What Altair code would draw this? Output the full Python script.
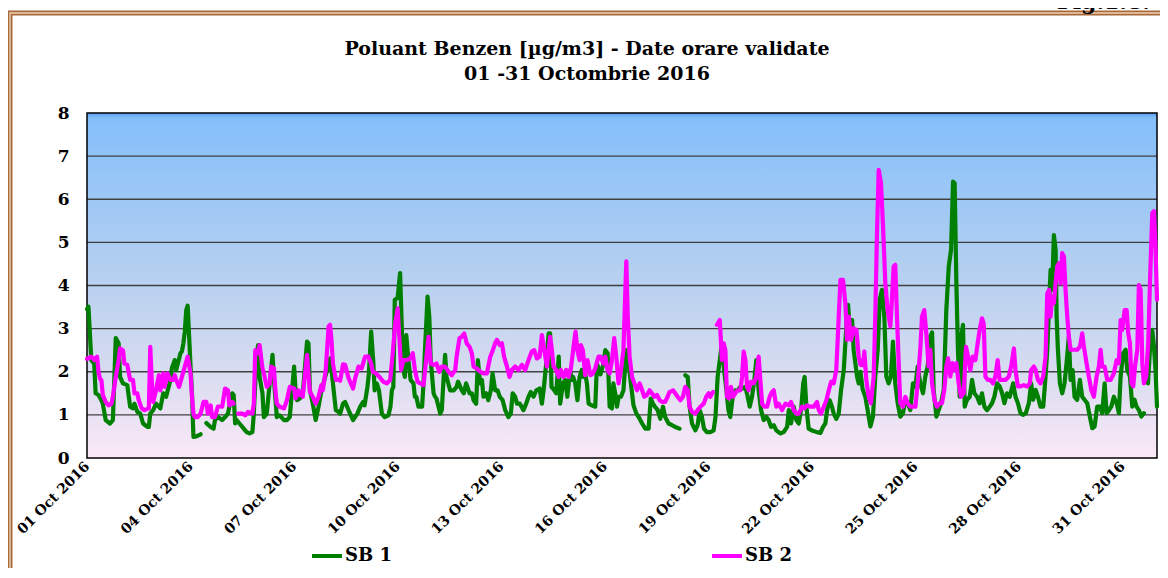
import altair as alt
import pandas as pd

FONT = "DejaVu Serif"
TITLE_LINES = ["Poluant Benzen [µg/m3] - Date orare validate", "01 -31 Octombrie 2016"]
FIG_LABEL = "Fig.1.8."
SERIES_NAMES = ["SB 1", "SB 2"]
SERIES_COLORS = ["#008000", "#ff00ff"]
TICK_DAYS = [1, 4, 7, 10, 13, 16, 19, 22, 25, 28, 31]
Y_TICKS = [0, 1, 2, 3, 4, 5, 6, 7, 8]
GRID_VALUES = [1, 2, 3, 4, 5, 6, 7]

# (hours since 01 Oct 2016 00:00, benzene ug/m3); None marks a break in the record
SB1 = [
(0,3.45),(1,3.51),(3,2.27),(5,2.19),(6,1.50),(8,1.46),(10,1.34),(11,1.26),(13,0.88),(16,0.80),(18,0.88),(20,2.78),(22,2.66),(23,1.88),(25,1.73),(28,1.69),(30,1.19),(32,1.15),(33,1.26),(35,1.07),(37,1.03),(39,0.80),(42,0.72),(43,0.72),(44,1.03),(46,1.11),(48,1.26),(51,1.15),(53,1.50),(55,1.42),(58,1.81),(59,2.08),(61,2.27),(62,2.04),(65,2.43),(66,2.47),(67,2.66),(68,2.93),(69,3.43),(70,3.53),(72,2.12),(73,1.50),(74,0.49),(76,0.50),(79,0.55),(81,None),
(83,0.81),(86,0.72),(88,0.68),(89,0.88),(91,0.95),(94,0.88),(96,0.95),(98,1.03),(99,1.19),(101,1.50),(102,1.46),(103,0.80),(104,0.88),(106,0.80),(108,0.72),(111,0.60),(113,0.57),(115,0.60),(116,1.03),(118,2.43),(119,2.62),(120,1.88),(122,1.50),(123,0.95),(125,1.03),(127,1.73),(129,2.39),(130,1.81),(132,0.95),(134,0.99),(137,0.88),(139,0.88),(141,0.95),(144,2.12),(145,1.57),(146,1.34),(148,1.38),(150,1.50),(153,2.70),(154,2.66),(155,1.57),(157,1.26),(159,0.88),(161,1.19),(163,1.57),(167,2.04),(169,2.31),(170,2.04),(173,1.11),(175,1.07),
(176,1.03),(178,1.26),(179.5,1.30),(182,1.10),(185,0.88),(188,1.03),(190,1.19),(192,1.30),(193,1.22),(195,1.65),(196,1.96),(197.6,2.93),(199,2.27),(200,1.57),(201.5,1.73),(203,1.57),(205,1.03),(207,0.95),(209.6,0.99),(211,1.19),(212,1.57),(213,1.65),(214,3.67),(216,3.71),(217.7,4.29),(219,2.89),(220,2.04),(221,1.88),(222,2.85),(223.5,2.27),(225,1.81),(227,1.73),(228,1.42),(229,1.42),(230.5,1.19),(233,1.19),(234,1.73),(235,2.50),(236.8,3.74),(238,3.28),(239,2.27),(241,1.50),(242,1.42),(243,1.38),(245.6,1.03),(246.7,1.11),(248,1.88),(249,2.39),(250,1.88),(252.5,1.57),(255,1.57),(257,1.65),(258,1.77),(260.6,1.57),(262,1.50),(263.6,1.73),(266,1.50),(267.6,1.50),(268.8,1.34),(270.6,1.26),(271.8,2.27),(273.4,1.73),(274.6,1.81),(275.7,1.42),(277.6,1.50),(279,1.34),(280.8,1.57),(282,1.96),(283.8,1.57),(285.5,1.57),(287,1.42),(289,1.34),(290.8,1.11),(293,0.95),(294.7,1.03),(296,1.50),(297.7,1.42),(299,1.26),(301,1.26),(303.5,1.11),(305.4,1.26),(307,1.42),(308.6,1.53),(310.5,1.42),(312.4,1.57),(314.7,1.61),(316.3,1.26),(317.5,1.57),(319.3,2.19),(321,2.89),(322,2.89),(323,1.65),(324.9,1.57),(326.3,1.50),(328,2.35),(329,1.26),(331,1.73),(332.5,1.81),(334,1.42),(336,2.04),(337,1.81),(338,1.88),(339.5,1.73),(341,1.34),(342.5,1.88),(344,2.04),(345,1.88),(346.4,1.96),(347.6,1.73),(348.8,1.26),(351,1.22),(353.4,1.19),(354.6,2.19),
(357,1.94),(359,2.17),(360.4,2.50),(362,2.43),(363.4,1.19),(365,1.15),(366,1.73),(367.3,1.50),(368.5,1.19),(369.7,1.42),(371.3,1.42),(373,1.57),(375,2.50),(376.6,2.19),(378.2,1.73),(380,1.22),(382,1.03),(383.6,0.95),(386,0.80),(388.2,0.68),(390.5,0.68),(392,1.38),(393.5,1.26),(395,1.19),(396.8,1.11),(398.6,0.91),(400.5,1.19),(402,0.95),(404.4,0.80),(406.8,0.76),(409,0.72),(412,0.68),(414,None),
(416,1.92),(417.7,1.88),(419,1.19),(420.7,0.80),(423,0.64),(424.6,0.76),(426,1.11),(427.6,0.95),(429,0.68),(431,0.60),(433.4,0.60),(435.7,0.64),(437,0.95),(438.5,1.88),(440,2.27),(441.5,2.66),(443,2.04),(444.6,1.57),(446,1.11),(447.3,0.95),(449,1.42),(450.8,1.57),(452.4,1.57),(454.3,1.65),(456,1.61),(457.8,1.65),(459.4,1.42),(460.8,1.19),(462.4,1.42),(464,1.81),(465.4,2.27),(467,1.57),(468.7,1.11),(470.5,0.88),(472.4,0.95),(474,0.88),(475.6,0.72),(477.5,0.76),(479.3,0.64),(482,0.57),(484.4,0.60),(486.8,0.72),(488,1.11),(489.5,0.80),(491.4,1.19),(493.2,0.88),(494.9,0.80),(496.5,1.11),(498,1.73),(499,1.88),(500.2,1.19),(501.8,0.68),(504,0.64),(507.6,0.60),(510,0.58),(511.8,0.72),(513.4,0.80),(514.6,1.11),(516.4,1.34),(518,1.19),(519.2,1.03),(521,0.91),(522.7,1.03),(524.3,1.57),(526.2,2.04),(528,3.05),(529.2,3.55),(530.4,2.97),(532,3.20),(533.1,2.50),(534.3,2.19),(535.5,1.88),(536.6,1.73),
(537.8,2.00),(539.3,1.60),(541.2,1.42),(542.8,1.11),(544.7,0.73),(546.5,0.96),(548.1,1.89),(549.8,2.51),(551.2,3.67),(552.8,3.90),(554.4,3.28),(555.8,1.89),(557.4,1.73),(559,1.89),(560.4,2.70),(562,1.73),(563.7,1.27),(565.5,0.96),(567.4,1.04),(569,1.35),(570.6,1.27),(572.5,1.11),(574.3,1.73),(576,1.66),(577.6,2.12),(579.4,1.73),(581.3,1.50),(582.9,1.89),(584.5,2.12),(586.4,2.82),(587.6,2.91),(588.7,1.58),(590.6,0.96),(592.2,1.11),(593.8,1.27),(595.7,1.58),(597.5,3.43),(599.2,4.44),(600.8,4.83),(602.2,6.41),(603.3,6.37),(604.5,4.05),(605.6,2.51),(606.8,1.42),(608,2.82),(609.1,3.09),(610.3,1.19),(611.9,1.35),(613.8,1.42),(615.4,1.81),(617,1.50),(618.9,1.42),(620.7,1.27),(622.3,1.50),(624,1.19),(625.8,1.11),(627.7,1.19),(629.3,1.27),(630.9,1.42),(632.8,1.73),(634.6,1.66),
(636.3,1.50),(637.9,1.27),(639.7,1.50),(641.6,1.42),(644,1.73),(645.6,1.42),(647.3,1.27),(649.1,1.04),(651,1.00),(652.8,1.04),(654.9,1.27),(656.5,1.73),(657.9,1.35),(659.6,1.58),(661.2,1.42),(663,1.19),(664.9,1.19),(666.5,1.89),(667.7,2.51),(668.8,3.43),(670,4.36),(671.1,3.90),(672.3,5.17),(673.5,4.83),(674.2,3.28),(675.1,2.51),(676.5,1.73),(678.1,1.50),(679.7,1.73),(681.1,2.20),(682.7,2.82),(683.9,1.81),(685.3,2.04),(686.7,1.42),(688.5,1.35),(690.4,1.81),(692,1.42),(693.6,1.35),(695.5,1.27),(697.3,0.96),(699,0.69),(700.6,0.73),(702.4,1.19),(704.3,1.19),(705.9,1.04),(707.6,1.73),(709,1.04),(710.6,1.11),(712.2,1.19),(714,1.42),(715.9,1.27),(717.5,1.04),(718.7,1.89),(720.5,2.43),(722.2,2.51),(723.3,2.04),(725.2,1.89),(726.8,1.19),(728.4,1.35),(729.8,1.19),(731.4,1.11),(733.1,0.96),(734.9,1.04),(736.3,None),
(737.7,1.73),(739.1,2.51),(740.7,2.97),(741.9,2.58),(743,2.04),(744,1.19),
]

SB2 = [
(0,2.30),(1,2.31),(3,2.35),(5,2.27),(7,2.35),(8,2.00),(9,1.84),(10,1.81),(11,1.46),(13,1.30),(15,1.22),(17,1.26),(18,1.42),(20,1.88),(22,2.27),(23,2.54),(25,2.50),(26,2.19),(28,2.16),(30,1.81),(32,1.81),(33,1.50),(35,1.50),(36,1.34),(38,1.15),(40,1.11),(43,1.15),(44,2.58),(45,1.81),(46,1.30),(48,1.57),(50,1.92),(51,1.57),(53,1.96),(54,1.65),(56,1.96),(58,1.81),(60,1.81),(61,1.92),(62,1.81),(64,1.65),(66,1.88),(68,2.12),(70,2.35),(72,1.96),(73,1.42),(74,1.03),(75,0.95),(77,0.95),(79,1.03),(81,1.30),(83,1.30),(84,1.03),(86,1.22),(87,0.95),(89,0.95),(91,1.19),(93,1.20),(94,1.19),(96,1.61),(98,1.57),(99,1.22),(101,1.30),(102,1.26),(103.5,None),
(105,1.03),(108,1.03),(110,0.99),(112,1.07),(115,1.03),(116,1.26),(117,2.50),(119,2.43),(120,2.62),(122,2.08),(123,1.96),(125,1.65),(127,1.73),(128,2.12),(130,2.08),(131,1.57),(132,1.26),(134,1.19),(137,1.15),(139,1.34),(141,1.65),(144,1.61),(145,1.38),(147,1.57),(148,1.46),(149,1.53),(150,1.42),(153,2.39),(154,1.96),(155,1.53),(157,1.42),(159,1.26),(161,1.42),(163,1.69),(164,1.57),(166,2.04),(168,3.05),(169,3.09),(170,2.74),(171,2.19),(173,1.81),(175,1.82),(176,1.79),
(178,2.17),(179.5,2.16),(181,1.96),(182,1.84),(185,1.61),(186.4,1.84),(188.8,2.12),(191,2.08),(193.4,2.35),(195.7,2.35),(197.6,2.19),(198.7,2.00),(201,1.96),(203.4,1.88),(206,1.77),(208.5,1.73),(210.8,1.81),(212.6,2.43),(214.3,3.12),(216,3.47),(217.3,2.74),(218.4,2.04),(220,2.27),(222.4,2.27),(224.7,2.31),(226.5,2.43),(228,2.04),(229.8,1.77),(231.7,1.73),(234,1.69),(235.8,2.27),(237.5,2.81),(239,2.19),(241,2.16),(243,2.19),(245,2.00),(246.7,2.12),(249,2.12),(251.4,2.00),(253.7,1.92),(256,2.04),(257,2.35),(259,2.78),(260.6,2.81),(262.3,2.89),(264,2.66),(266,2.58),(267.6,2.43),(268.8,2.12),(271,2.08),(273.4,2.00),(275.7,1.96),(278,1.96),(280.4,2.35),(282.2,2.50),(283.8,2.66),(285,2.74),(287,2.62),(288.5,2.66),(290,2.35),(292,2.12),(293.8,1.88),(295.4,2.04),(297.7,2.12),(300,2.04),(302.4,2.16),(304.7,2.04),(307,2.27),(309.3,2.47),(311,2.50),(312.8,2.31),(314.7,2.35),(316.3,2.85),(318,2.50),(319.8,2.12),(322,2.81),(323,2.58),(324.4,2.12),(326.3,2.04),(328,1.88),(329.5,2.04),(331.4,1.88),(333.2,2.04),(334.9,1.88),(336.5,2.08),(338.3,2.58),(339.7,2.93),(341,2.50),(342.5,2.27),(343.4,2.62),(344.8,2.50),(346.4,1.92),(348,2.27),(350,1.92),(351.8,1.96),(353.4,2.08),(355.7,2.35),
(357,2.35),(359,2.19),(360.4,2.35),(362,2.04),(363.4,1.96),(365,2.27),(366.6,2.78),(368,2.35),(369.6,1.73),(371.3,2.04),(373,2.50),(375,4.56),(376,3.28),(377.3,2.35),(379,1.88),(380.6,1.73),(382.4,1.57),(384.3,1.73),(386,1.57),(387.5,1.42),(389.4,1.46),(391.2,1.57),(392.8,1.50),(394.5,1.42),(396.3,1.46),(398.2,1.34),(399.8,1.30),(402,1.30),(403.7,1.42),(405,1.53),(407.5,1.57),(409,1.50),(410.7,1.42),(412.6,1.34),(414.4,1.42),(416,1.65),(417.7,1.57),(419,1.19),(420.7,1.07),(423,1.03),(424.6,1.11),(426.5,1.19),(428.8,1.26),(430.6,1.42),(432.3,1.50),(433.4,1.42),(435.3,1.53),(436.7,None),
(438,3.09),(440,3.20),(441.5,2.27),(442.7,2.66),(443.9,2.50),(445,1.42),(446.4,1.38),(447.8,1.65),(449.2,1.42),(450.8,1.50),(452.4,1.57),(454.3,1.57),(455.5,1.88),(456.6,2.47),(457.8,2.27),(459,1.65),(460,1.57),(461.7,1.77),(463.6,1.73),(465.4,1.88),(467,2.35),(468.2,1.81),(469.4,1.26),(471,1.19),(472.9,1.19),(474.7,1.42),(476.3,1.53),(477.5,1.57),(479.3,1.19),(481,1.26),(483.3,1.11),(485.6,1.26),(488,1.22),(489.5,1.30),(491.4,1.11),(493.2,1.03),(494.9,1.03),(497.2,1.19),(498.8,1.15),(500.7,1.22),(503,1.19),(505.3,1.19),(507.6,1.30),(508.8,1.11),(510.4,1.03),(512.3,1.19),(514.1,1.34),(515.8,1.57),(517.4,1.77),(519.2,1.73),(521,2.04),(522.7,3.28),(523.9,4.13),(525.7,4.13),(527.3,3.59),(528.5,2.74),(529.7,3.28),(531.3,2.74),(533.1,3.01),(535,2.97),(536.6,2.35),
(537.8,2.16),(539.6,2.15),(540.5,2.47),(541.9,1.80),(543.5,1.42),(545.1,1.27),(547,1.89),(548.1,3.28),(549.3,5.21),(550.5,6.68),(552.1,6.37),(553.5,5.37),(555.1,4.05),(556.7,3.43),(558.6,3.05),(559.7,3.67),(560.9,4.44),(562,4.48),(563.2,3.28),(564.4,2.20),(565.5,1.27),(567.4,1.19),(569,1.42),(570.6,1.27),(572.5,1.19),(574.3,1.19),(576,1.19),(577.6,1.73),(579.4,2.51),(580.6,3.28),(582.2,3.43),(583.6,2.89),(585.2,2.12),(586.4,2.51),(587.6,1.73),(589.2,1.35),(591,1.19),(592.9,1.27),(594.5,1.27),(596.1,1.58),(597.5,2.12),(598.7,2.31),(600.3,1.89),(601.7,2.20),(603.1,2.04),(604.5,2.20),(606.1,1.73),(607.7,1.42),(609.6,1.50),(611.2,2.58),(612.6,2.35),(614.2,2.04),(615.8,2.35),(617.7,2.27),(619.3,2.66),(620.7,2.97),(622.3,3.24),(623.5,3.12),(624.7,1.89),(626.3,1.81),(628.1,1.81),(630,1.73),(631.6,1.89),(633.2,2.27),(634.6,1.81),
(636.3,1.81),(638.6,1.81),(641,1.89),(642.6,2.12),(644.5,2.54),(645.6,2.04),(647.3,1.66),(649.1,1.66),(651.4,1.69),(653.8,1.66),(655.6,1.73),(656.5,2.04),(658.4,2.12),(659.6,2.04),(661.2,1.81),(663,1.73),(664.9,1.89),(666.5,2.35),(667.7,3.82),(669,3.90),(670,3.28),(671.1,3.74),(672.3,3.59),(673.5,4.05),(674.6,4.44),(675.8,4.52),(677,4.05),(678.1,4.75),(679.3,4.67),(680.4,3.90),(681.6,3.28),(682.7,2.82),(683.9,2.51),(686.2,2.51),(688.5,2.51),(690.4,2.58),(692,2.89),(693.2,2.58),(695,2.20),(696.6,1.89),(698.3,1.58),(700.1,1.42),(702,1.89),(703.6,2.12),(704.8,2.51),(705.9,2.12),(707.6,2.12),(709.4,1.81),(711.7,1.81),(714,1.96),(715.9,2.27),(717.5,2.20),(718.7,3.20),(719.8,2.97),(721.5,3.43),(722.9,3.43),(724,2.89),(725.2,2.66),(726.3,1.73),(727.5,1.66),(728.7,2.12),(730.3,2.51),(731.4,4.01),(732.6,3.90),(733.8,2.20),(734.9,1.73),(736.5,1.89),(737.9,2.66),(739.1,4.05),(740.7,5.68),(741.9,5.72),(743,4.83),(744,3.67),
]

START = pd.Timestamp("2016-10-01T00:00:00")


def to_rows(points, name):
    rows = []
    seg = 0
    for h, v in points:
        if v is None:
            seg += 1
            continue
        t = START + pd.Timedelta(hours=h)
        rows.append({"time": t.strftime("%Y-%m-%dT%H:%M:%SZ"), "value": v,
                     "series": name, "seg": f"{name}-{seg}"})
    return rows


df = pd.DataFrame(to_rows(SB1, SERIES_NAMES[0]) + to_rows(SB2, SERIES_NAMES[1]))
one = pd.DataFrame({"k": [0]})
grid_df = pd.DataFrame({"g": GRID_VALUES})

W, H = 1070, 345

x_scale = alt.Scale(type="utc", domain=[alt.DateTime(year=2016, month=10, date=1, utc=True),
                                        alt.DateTime(year=2016, month=11, date=1, utc=True)])
y_scale = alt.Scale(domain=[0, 8], nice=False, zero=True)
y_axis = alt.Axis(values=Y_TICKS, labelFont=FONT, labelFontWeight="bold", labelFontSize=17,
                  labelColor="black", ticks=False, domain=False, grid=False, labelPadding=18,
                  title=None)

gradient = alt.LinearGradient(
    gradient="linear", x1=0, x2=0, y1=0, y2=1,
    stops=[
        alt.GradientStop(offset=0, color="#5c9df2"),
        alt.GradientStop(offset=0.015, color="#84bffb"),
        alt.GradientStop(offset=0.45, color="#b3cff0"),
        alt.GradientStop(offset=0.75, color="#d8dcf0"),
        alt.GradientStop(offset=1, color="#fbe8f7"),
    ],
)

background = alt.Chart(one).mark_rect(color=gradient).encode(
    x=alt.value(0), x2=alt.value(W), y=alt.value(0), y2=alt.value(H))

grid = alt.Chart(grid_df).mark_rule(color="#404040", strokeWidth=1.3).encode(
    y=alt.Y("g:Q", scale=y_scale, axis=y_axis), x=alt.value(0), x2=alt.value(W))

border = alt.Chart(one).mark_rect(fillOpacity=0, stroke="black", strokeWidth=1.5).encode(
    x=alt.value(0), x2=alt.value(W), y=alt.value(0), y2=alt.value(H))

lines = alt.Chart(df).mark_line(strokeWidth=4.2, strokeJoin="round", strokeCap="round").encode(
    x=alt.X("time:T", scale=x_scale, axis=alt.Axis(
        values=[alt.DateTime(year=2016, month=10, date=d, utc=True) for d in TICK_DAYS],
        format="%d %b %Y", labelAngle=-45, labelAlign="right", labelBaseline="middle",
        labelFont=FONT, labelFontWeight="bold", labelFontSize=14, labelColor="black",
        ticks=False, domain=False, grid=False, labelPadding=6, title=None,
        labelOverlap=False, labelFlush=False)),
    y=alt.Y("value:Q", scale=y_scale, axis=y_axis),
    color=alt.Color("series:N", scale=alt.Scale(domain=SERIES_NAMES, range=SERIES_COLORS),
                    legend=alt.Legend(title=None, orient="none", legendX=223, legendY=426,
                                      direction="horizontal", symbolType="stroke",
                                      symbolSize=900, symbolStrokeWidth=4,
                                      labelFont=FONT, labelFontWeight="bold",
                                      labelFontSize=18, labelColor="black",
                                      columnPadding=311, labelOffset=1)),
    detail="seg:N",
)

frame_outer = alt.Chart(one).mark_rect(fillOpacity=0, stroke="#a8693a", strokeWidth=5).encode(
    x=alt.value(-77), x2=alt.value(1400), y=alt.value(-100), y2=alt.value(800))
frame_inner = alt.Chart(one).mark_rect(fillOpacity=0, stroke="#efd2b4", strokeWidth=1.4).encode(
    x=alt.value(-77), x2=alt.value(1400), y=alt.value(-100), y2=alt.value(800))

title_1 = alt.Chart(one).mark_text(text=TITLE_LINES[0], font=FONT, fontWeight="bold", fontSize=19,
                                   align="center", baseline="middle", color="black").encode(
    x=alt.value(500), y=alt.value(-64))
title_2 = alt.Chart(one).mark_text(text=TITLE_LINES[1], font=FONT, fontWeight="bold", fontSize=19,
                                   align="center", baseline="middle", color="black").encode(
    x=alt.value(500), y=alt.value(-39))

fig_text = alt.Chart(one).mark_text(text=FIG_LABEL, font=FONT, fontWeight="bold", fontSize=22,
                                    align="right", baseline="alphabetic", color="black").encode(
    x=alt.value(1063), y=alt.value(-104))

chart = alt.layer(background, grid, border, lines, frame_outer, frame_inner,
                  title_1, title_2, fig_text).properties(
    width=W, height=H,
    autosize=alt.AutoSizeParams(type="none"),
    padding={"left": 79, "top": 105, "right": 3, "bottom": 110},
).configure_view(strokeWidth=0)

chart.save("out.html", embed_options={"renderer": "svg", "actions": False})
